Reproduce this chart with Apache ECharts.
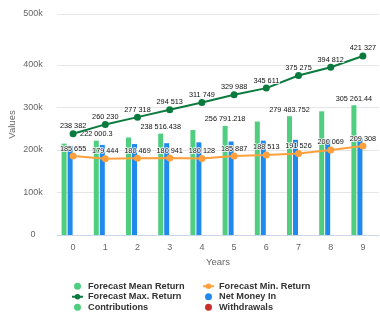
<!DOCTYPE html>
<html>
<head>
<meta charset="utf-8">
<script src="https://cdn.jsdelivr.net/npm/echarts@6/dist/echarts.min.js"></script>
<style>html,body{margin:0;padding:0;background:#fff}#c{width:380px;height:318px}</style>
</head>
<body>
<div id="c"></div>
<script>
const years = ['0','1','2','3','4','5','6','7','8','9'];
const meanReturn = [215000, 222000.3, 229500, 238516.438, 247000, 256791.218, 267000, 279483.752, 291000, 305261.44];
const maxReturn = [238382, 260230, 277318, 294513, 311749, 329988, 345611, 375275, 394812, 421327];
const minReturn = [185655, 179444, 180469, 180941, 180128, 185887, 188513, 191526, 200069, 209308];
const netMoneyIn = [210000, 212000, 214000, 216000, 218000, 220000, 222000, 224000, 226000, 228000];
const contributions = [null, null, null, null, null, null, null, null, null, null];
const withdrawals = [null, null, null, null, null, null, null, null, null, null];
const yTickValues = [0, 100000, 200000, 300000, 400000, 520000];
const yTickLabels = ['0', '100k', '200k', '300k', '400k', '500k'];

const FONT = 'Liberation Sans, Arial, sans-serif';
function fmt(v) {
  const s = String(v);
  const parts = s.split('.');
  const g = parts[0].replace(/\B(?=(\d{3})+(?!\d))/g, ' ');
  return parts.length > 1 ? g + '.' + parts[1] : g;
}
const C = {
  mean: '#4fce7f', max: '#0b7a3e', min: '#ffa03c', net: '#1f8aeb', contrib: '#4fce7f', withd: '#c8302c'
};
const dataLabel = {
  show: true, position: 'top', fontSize: 7.3, fontFamily: FONT, color: '#111',
  textBorderColor: '#fff', textBorderWidth: 1.5,
  formatter: p => fmt(p.value)
};
const legendBase = {
  orient: 'vertical', top: 281, height: 36, padding: 0, itemWidth: 11, itemHeight: 7, itemGap: 0,
  textStyle: {fontSize: 9.2, fontWeight: 'bold', color: '#333', fontFamily: FONT, lineHeight: 10.5}
};

const chart = echarts.init(document.getElementById('c'), null, {renderer: 'canvas'});
chart.setOption({
  animation: false,
  textStyle: {fontFamily: FONT},
  grid: {left: 57, right: 1, top: 14, bottom: 83, containLabel: false, outerBoundsMode: 'none'},
  legend: [
    Object.assign({}, legendBase, {
      left: 71,
      data: [
        {name: 'Forecast Mean Return', icon: 'circle'},
        {name: 'Forecast Max. Return'},
        {name: 'Contributions', icon: 'circle'}
      ]
    }),
    Object.assign({}, legendBase, {
      left: 202,
      data: [
        {name: 'Forecast Min. Return'},
        {name: 'Net Money In', icon: 'circle'},
        {name: 'Withdrawals', icon: 'circle'}
      ]
    })
  ],
  xAxis: {
    type: 'category', data: years,
    name: 'Years', nameLocation: 'middle', nameGap: 21,
    nameTextStyle: {fontSize: 9.5, color: '#666', fontFamily: FONT},
    axisLine: {lineStyle: {color: '#ccd6eb', width: 1}},
    axisTick: {alignWithLabel: true, length: 4, lineStyle: {color: '#ccd6eb'}},
    axisLabel: {fontSize: 9, color: '#666', margin: 8, fontFamily: FONT}
  },
  yAxis: {
    type: 'value', min: 0, max: 520000,
    name: 'Values', nameLocation: 'middle', nameGap: 40, nameMoveOverlap: false,
    nameTextStyle: {fontSize: 9.5, color: '#666', fontFamily: FONT},
    axisLine: {show: false}, axisTick: {show: false, customValues: yTickValues},
    splitLine: {lineStyle: {color: '#e6e6e6', width: 1}},
    axisLabel: {
      customValues: yTickValues, fontSize: 9, color: '#666', margin: 24, align: 'center', fontFamily: FONT,
      formatter: v => yTickLabels[yTickValues.indexOf(v)]
    }
  },
  series: [
    {
      name: 'Forecast Mean Return', type: 'bar', barWidth: 5, barGap: '20%',
      itemStyle: {color: C.mean},
      label: Object.assign({}, dataLabel, {distance: 3}),
      data: meanReturn.map((v, i) => ({value: v, label: {show: i % 2 === 1}}))
    },
    {
      name: 'Net Money In', type: 'bar', barWidth: 5, barGap: '20%',
      itemStyle: {color: C.net}, data: netMoneyIn
    },
    {
      name: 'Contributions', type: 'bar', barWidth: 5, barGap: '20%',
      itemStyle: {color: C.contrib}, data: contributions
    },
    {
      name: 'Withdrawals', type: 'bar', barWidth: 5, barGap: '20%',
      itemStyle: {color: C.withd}, data: withdrawals
    },
    {
      name: 'Forecast Min. Return', type: 'line', symbol: 'circle', symbolSize: 7,
      lineStyle: {color: C.min, width: 2}, itemStyle: {color: C.min},
      label: Object.assign({}, dataLabel, {distance: 0.5}),
      data: minReturn, z: 3
    },
    {
      name: 'Forecast Max. Return', type: 'line', symbol: 'circle', symbolSize: 7,
      lineStyle: {color: C.max, width: 2}, itemStyle: {color: C.max},
      label: Object.assign({}, dataLabel, {distance: 0.5}),
      data: maxReturn, z: 3
    }
  ]
});
</script>
</body>
</html>
